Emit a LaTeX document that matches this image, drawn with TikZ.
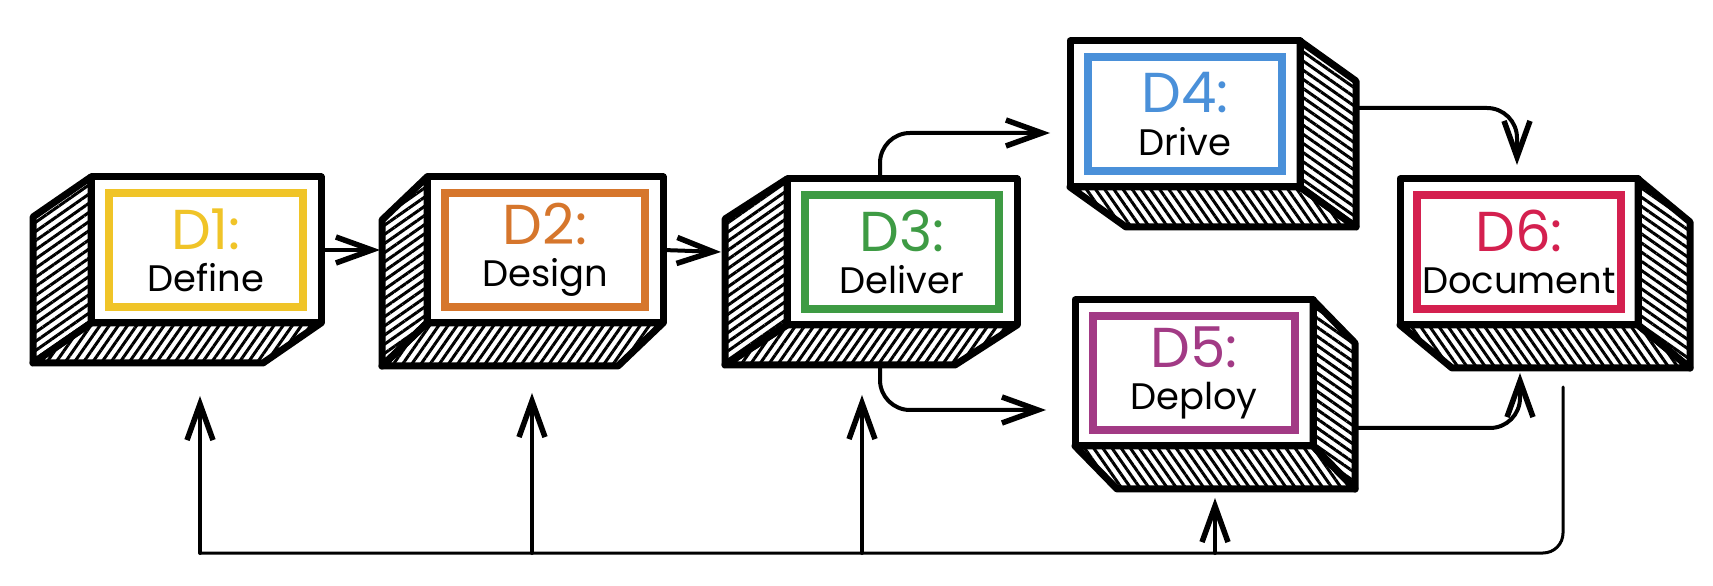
\documentclass[tikz,border=0pt]{standalone}
\usepackage{fontspec}
\setmainfont{Poppins}
\usetikzlibrary{arrows.meta,calc,patterns.meta}

\definecolor{defineC}{RGB}{240,196,40}
\definecolor{designC}{RGB}{214,118,44}
\definecolor{deliverC}{RGB}{62,155,68}
\definecolor{driveC}{RGB}{74,144,217}
\definecolor{deployC}{RGB}{162,58,133}
\definecolor{documentC}{RGB}{212,32,79}

\newcommand{\dtag}[2]{{\fontsize{16pt}{12pt}\selectfont\color{#1}#2}}

\tikzset{
  face/.style={draw, fill=white, line width=0.7mm, line join=round,
    minimum width=23mm, minimum height=14.6mm, outer sep=0pt},
  frame/.style={draw=#1, line width=0.8mm, minimum width=19.4mm,
    minimum height=11.4mm, inner sep=0.5mm, align=center,
    font=\fontsize{10.5pt}{12pt}\selectfont},
  side/.style={draw, line width=0.7mm, line join=round,
    pattern={Lines[angle=#1,distance=0.75mm,line width=0.3mm]}},
  flow/.style={line width=0.4mm, line cap=round, rounded corners=3mm,
    -{Straight Barb[length=3.6mm,width=2.6mm,line width=0.55mm]}},
  feedback/.style={line width=0.3mm, line cap=round, rounded corners=2mm},
}

\begin{document}
\begin{tikzpicture}[x=0.1mm, y=-0.1mm]
\useasboundingbox (0,0) rectangle (1713,586);

% front faces
\node[face] (d1) at (206,250) {};
\node[face, minimum width=23.6mm] (d2) at (545,250) {};
\node[face] (d3) at (902,252) {};
\node[face] (d4) at (1185,114) {};
\node[face, minimum width=23.8mm] (d5) at (1194,373) {};
\node[face, minimum width=23.8mm] (d6) at (1519,252) {};

% hatched sides, to the lower left
\foreach \n/\dx/\dy in {d1/-58/40, d2/-45/43, d3/-62/40} {
  \draw[side=35] (\n.north west) -- ++(\dx,\dy) -- ($(\n.south west)+(\dx,\dy)$) -- (\n.south west) -- cycle;
  \draw[side=55] (\n.south west) -- ++(\dx,\dy) -- ($(\n.south east)+(\dx,\dy)$) -- (\n.south east) -- cycle;
}
% hatched sides, to the lower right
\foreach \n/\dx/\dy in {d4/56/40, d5/42/43, d6/52/43} {
  \draw[side=-35] (\n.north east) -- ++(\dx,\dy) -- ($(\n.south east)+(\dx,\dy)$) -- (\n.south east) -- cycle;
  \draw[side=-55] (\n.south west) -- ++(\dx,\dy) -- ($(\n.south east)+(\dx,\dy)$) -- (\n.south east) -- cycle;
}

% coloured frames with labels
\node[frame=defineC] (d1in) at (d1) {\dtag{defineC}{D1:}\\ Define};
\node[frame=designC, minimum width=20mm] (d2in) at (d2) {\dtag{designC}{D2:}\\ Design};
\node[frame=deliverC] (d3in) at (d3) {\dtag{deliverC}{D3:}\\ Deliver};
\node[frame=driveC] (d4in) at (d4) {\dtag{driveC}{D4:}\\ Drive};
\node[frame=deployC, minimum width=20.2mm] (d5in) at (d5) {\dtag{deployC}{D5:}\\ Deploy};
\node[frame=documentC, minimum width=20.2mm] (d6in) at (d6) {\dtag{documentC}{D6:}\\ Document};

% flow
\draw[flow] (d1.east) -- ($(d2.west)+(-47,0)$);
\draw[flow] (d2.east) -- ($(d3.west)+(-66,0)$);
\draw[flow] ([xshift=-2.2mm]d3.north) |- ($(d4.west)+(-20,19)$);
\draw[flow] ($(d3.south)+(-22,40)$) |- ($(d5.west)+(-29,37)$);
\draw[flow] ($(d4.east)+(56,-6)$) -| ($(d6.north)+(-2,-14)$);
\draw[flow] ($(d5.east)+(42,55)$) -| ($(d6.south)+(1,48)$);

% feedback loop
\coordinate (base) at (0,553);
\coordinate (u1) at ($(d1.south)+(-6,73)$);
\coordinate (u2) at ($(d2.south)+(-13,70)$);
\coordinate (u3) at ($(d3.south)+(-40,70)$);
\coordinate (u5) at ($(d5.south)+(21,52)$);
\coordinate (ret) at ($(d6.south)+(44,62)$);
\draw[feedback] (ret) |- (u1 |- base);
\foreach \u in {u1,u2,u3,u5}
    \draw[flow] (\u |- base) -- (\u);
\end{tikzpicture}
\end{document}
